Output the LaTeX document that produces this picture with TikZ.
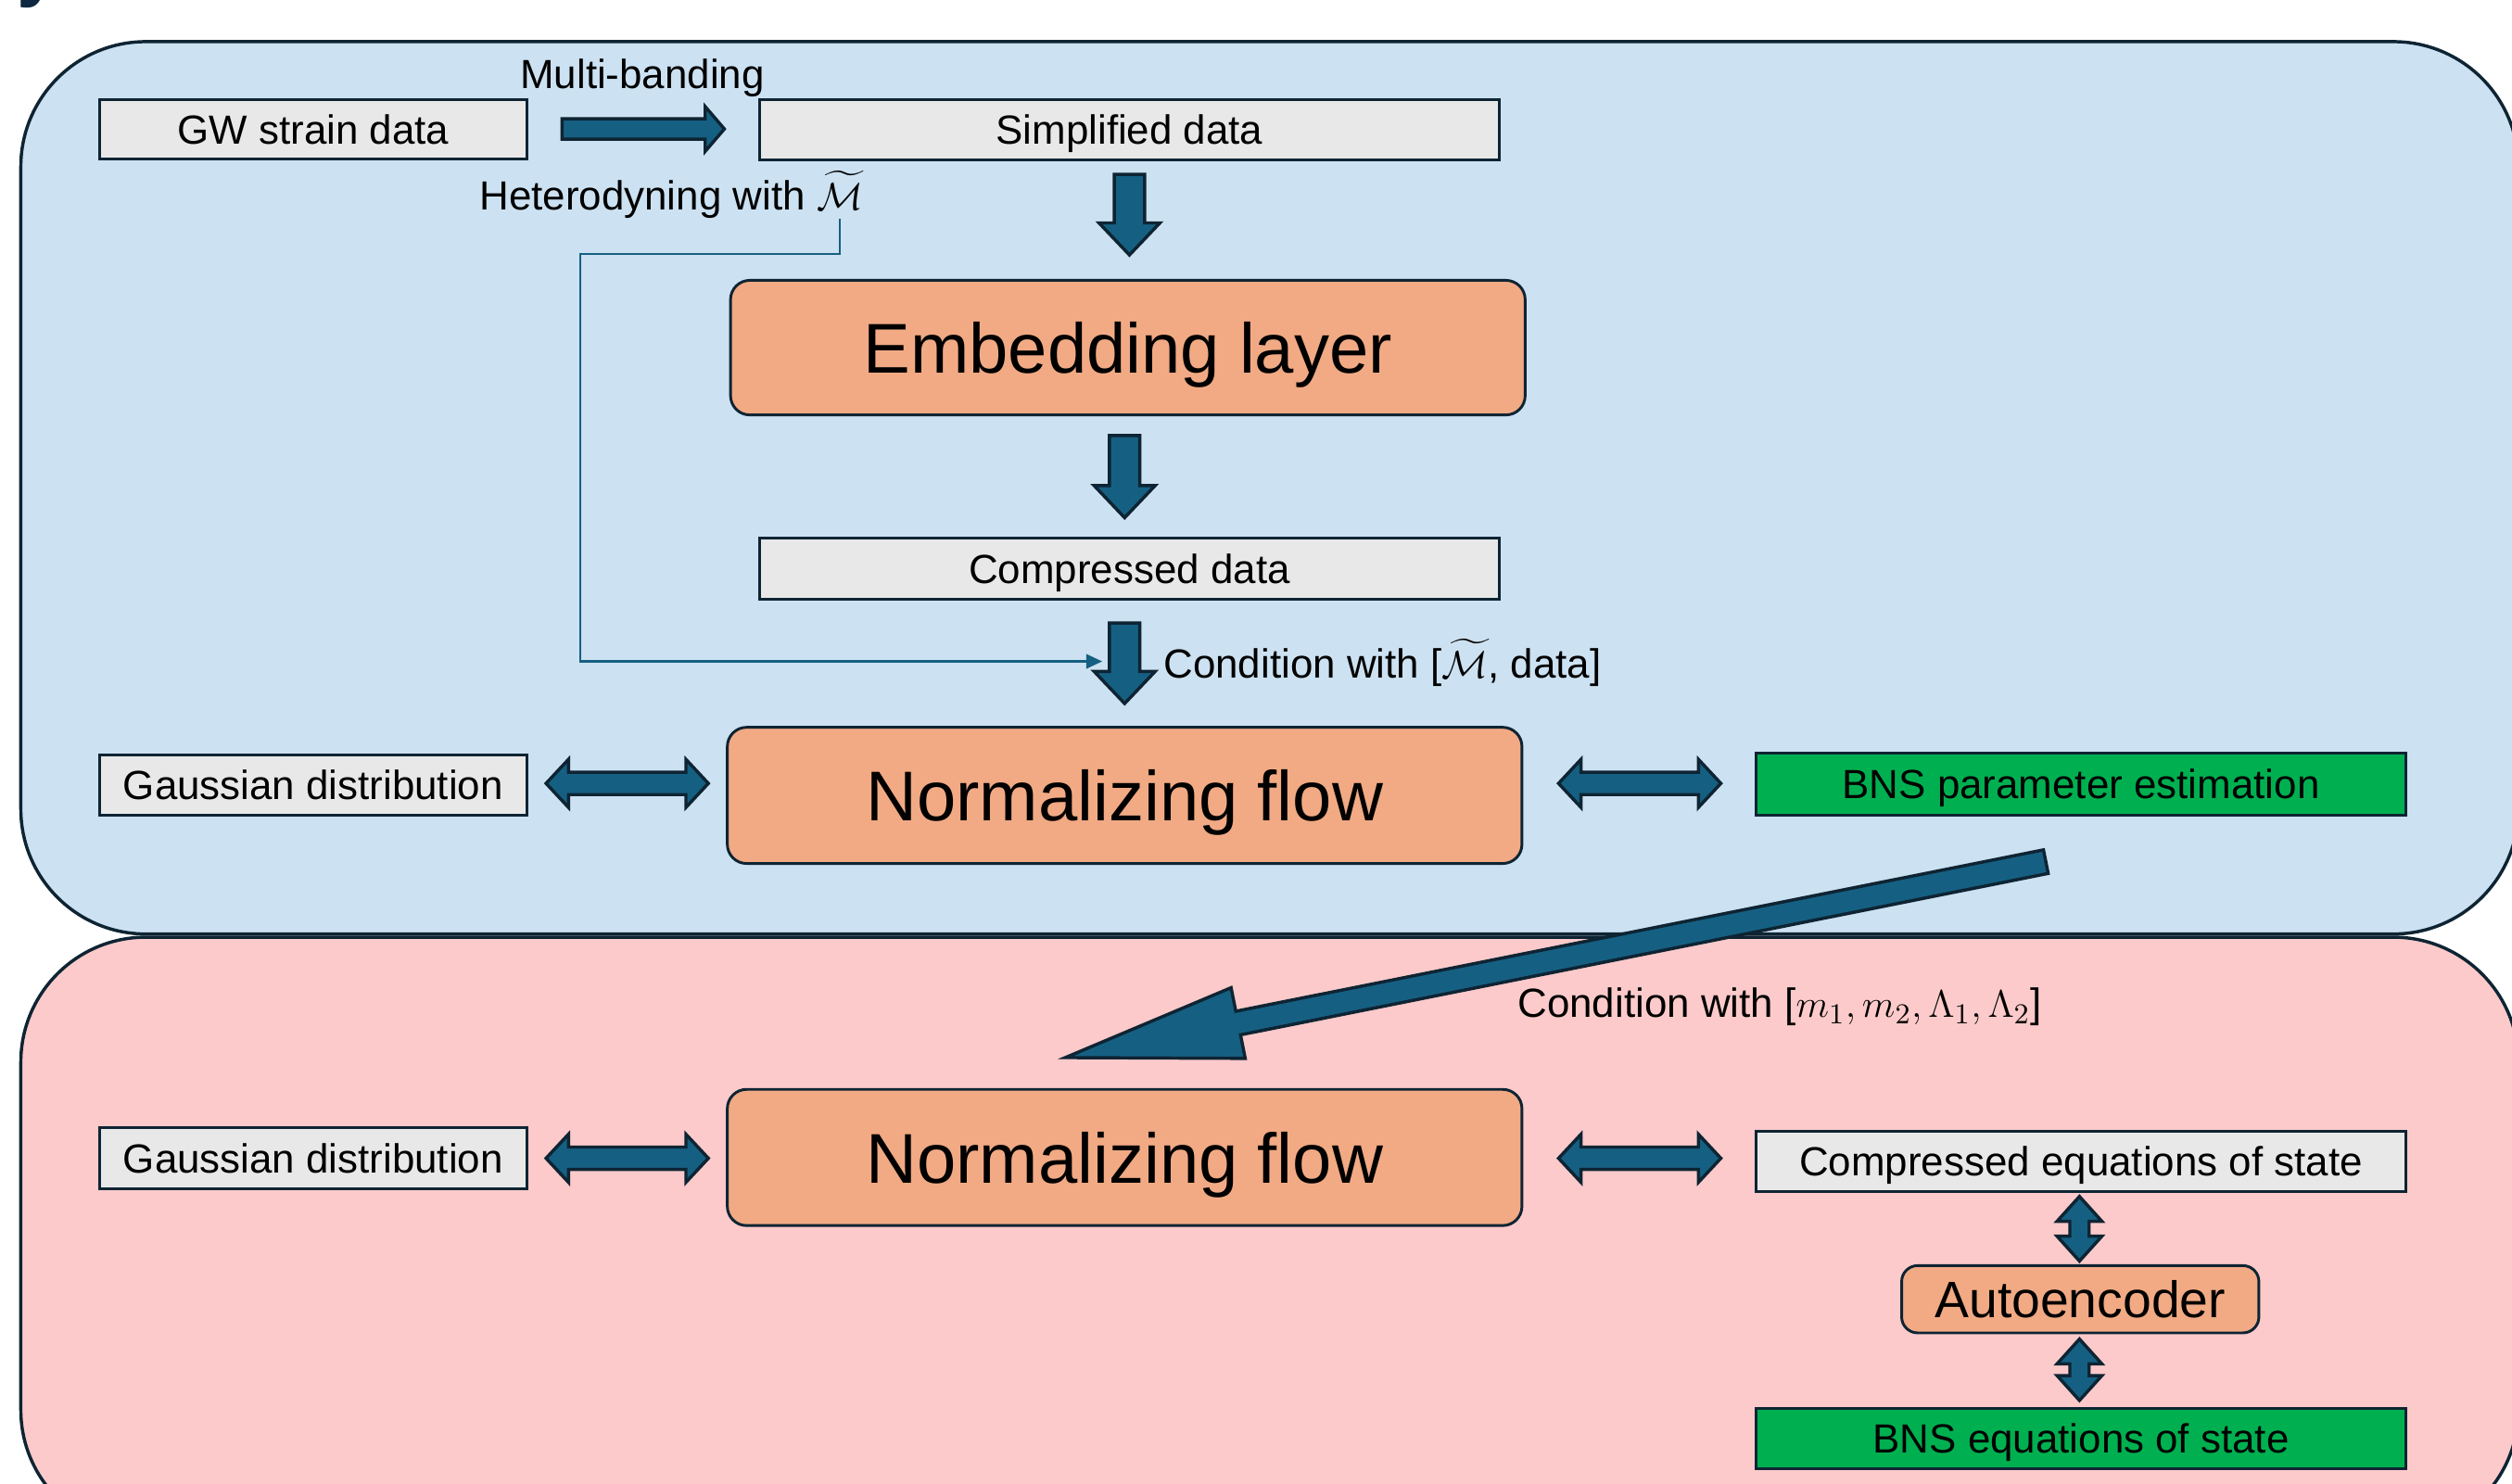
\documentclass[tikz,border=0pt]{standalone}
\usepackage{fontspec}
\setmainfont{Liberation Sans}
\usepackage{amsmath}
\usetikzlibrary{calc,arrows.meta}
\definecolor{navy}{HTML}{0E2433}
\definecolor{bluebg}{HTML}{CCE1F1}
\definecolor{pinkbg}{HTML}{FCCACA}
\definecolor{boxgrey}{HTML}{E8E8E8}
\definecolor{orangebox}{HTML}{F1AA84}
\definecolor{greenbox}{HTML}{00B050}
\definecolor{teal}{HTML}{156082}
\definecolor{titlenavy}{HTML}{0E2841}
\tikzset{
  panel/.style={draw=navy, line width=1pt, rounded corners=39pt},
  basebox/.style={draw=navy, line width=0.85pt, inner sep=0pt, align=center, text depth=0pt},
  greybox/.style={basebox, fill=boxgrey, font=\fontsize{12.7}{15}\selectfont},
  greenrect/.style={basebox, fill=greenbox, font=\fontsize{12.7}{15}\selectfont},
  bigbox/.style={basebox, fill=orangebox, rounded corners=6pt, font=\fontsize{22}{26}\selectfont},
  lbl/.style={inner sep=0pt, text depth=0pt, font=\fontsize{12.7}{15}\selectfont},
  blockarrow/.style={fill=teal, draw=navy, line width=1pt, line join=miter},
  hetline/.style={draw=teal, line width=0.65pt, -{Triangle[length=5pt,width=4.5pt]}}
}
% single block arrow: #1 start, #2 tip, #3 half shaft, #4 half head, #5 head length
\newcommand\sarrow[5]{%
  \coordinate (tmpc) at ($(#2)!#5!(#1)$);
  \draw[blockarrow] ($(#1)!#3!90:(#2)$) -- ($(tmpc)!#3!90:(#2)$) -- ($(tmpc)!#4!90:(#2)$) -- (#2)
    -- ($(tmpc)!#4!-90:(#2)$) -- ($(tmpc)!#3!-90:(#2)$) -- ($(#1)!#3!-90:(#2)$) -- cycle;}
% double block arrow
\newcommand\darrow[5]{%
  \coordinate (tmpa) at ($(#1)!#5!(#2)$);
  \coordinate (tmpb) at ($(#2)!#5!(#1)$);
  \draw[blockarrow] (#1) -- ($(tmpa)!#4!90:(#2)$) -- ($(tmpa)!#3!90:(#2)$) -- ($(tmpb)!#3!90:(#2)$)
    -- ($(tmpb)!#4!90:(#2)$) -- (#2) -- ($(tmpb)!#4!-90:(#2)$) -- ($(tmpb)!#3!-90:(#2)$)
    -- ($(tmpa)!#3!-90:(#2)$) -- ($(tmpa)!#4!-90:(#2)$) -- cycle;}
\begin{document}
\begin{tikzpicture}[x=0.5pt, y=-0.5pt]
\useasboundingbox (0,0) rectangle (1568,926);
% title fragment
\node[anchor=base, inner sep=0pt, text=titlenavy, font=\bfseries\fontsize{24}{28}\selectfont] (ttl) at (24,-5) {y};
% panels
\draw[panel, fill=pinkbg] (13,585) rectangle (1572,958);
\draw[panel, fill=bluebg] (13,26) rectangle (1572,583);

% boxes
\node[greybox, minimum width=133.5pt, minimum height=18.5pt] (gw) at (195.5,80.5) {GW strain data};
\node[greybox, minimum width=231pt, minimum height=19pt] (simp) at (705,81) {Simplified data};
\node[bigbox, minimum width=248pt, minimum height=42pt] (emb) at (704,217) {Embedding layer};
\node[greybox, minimum width=231pt, minimum height=19pt] (comp) at (705,355) {Compressed data};
\node[bigbox, minimum width=248pt, minimum height=42.5pt] (nf1) at (702,496.5) {Normalizing flow};
\node[greybox, minimum width=133.5pt, minimum height=19pt] (gauss1) at (195.5,490) {Gaussian distribution};
\node[greenrect, minimum width=203pt, minimum height=19.5pt] (bnspe) at (1299,489.5) {BNS parameter estimation};
\node[greybox, minimum width=133.5pt, minimum height=19pt] (gauss2) at (195.5,723) {Gaussian distribution};
\node[bigbox, minimum width=248pt, minimum height=42.5pt] (nf2) at (702,722.5) {Normalizing flow};
\node[greybox, minimum width=203pt, minimum height=19pt] (ceos) at (1299,725) {Compressed equations of state};
\node[bigbox, rounded corners=5pt, minimum width=111.5pt, minimum height=21pt, font=\fontsize{16}{19}\selectfont] (ae) at (1298.5,811) {Autoencoder};
\node[greenrect, minimum width=203pt, minimum height=19pt] (bnseos) at (1299,898) {BNS equations of state};

% labels
\node[lbl] (mb) at (401,46) {Multi-banding};
\node[lbl] (het) at (419,119) {Heterodyning with $\widetilde{\mathcal{M}}$};
\node[lbl, anchor=west] (cond1) at (726,411) {Condition with [$\widetilde{\mathcal{M}}$, data]};
\node[lbl, anchor=west] (cond2) at (947,626) {Condition with [$m_1, m_2, \Lambda_1, \Lambda_2$]};

% heterodyning connector
\coordinate (h0) at ($(het.south east)+(-15,5)$);
\coordinate (h1) at ($(comp.south)+(-17,38)$);
\draw[hetline] (h0) |- ++(-162,22) |- (h1);

% arrows
\coordinate (a1s) at ($(gw.east)+(21,0)$);
\coordinate (a1e) at ($(simp.west)+(-21,-0.5)$);
\sarrow{a1s}{a1e}{3.2pt}{7pt}{6pt}

\coordinate (d1s) at ($(simp.south)+(0,8)$);
\coordinate (d1e) at ($(emb.north)+(1,-15)$);
\sarrow{d1s}{d1e}{4.75pt}{9.5pt}{10pt}
\coordinate (d2s) at ($(emb.south)+(-2,12)$);
\coordinate (d2e) at ($(comp.north)+(-3,-12)$);
\sarrow{d2s}{d2e}{4.75pt}{9.5pt}{10pt}
\coordinate (d3s) at ($(comp.south)+(-3,14)$);
\coordinate (d3e) at ($(nf1.north)+(0,-14)$);
\sarrow{d3s}{d3e}{4.75pt}{9.5pt}{10pt}

\coordinate (g1s) at ($(gauss1.east)+(11,-1)$);
\coordinate (g1e) at ($(nf1.west)+(-11,-7.5)$);
\darrow{g1s}{g1e}{3.5pt}{7.5pt}{7pt}
\coordinate (p1s) at ($(nf1.east)+(22,-7.5)$);
\coordinate (p1e) at ($(bnspe.west)+(-21,-0.5)$);
\darrow{p1s}{p1e}{3.5pt}{7.5pt}{7pt}
\coordinate (g2s) at ($(gauss2.east)+(11,0)$);
\coordinate (g2e) at ($(nf2.west)+(-11,0.5)$);
\darrow{g2s}{g2e}{3.5pt}{7.5pt}{7pt}
\coordinate (p2s) at ($(nf2.east)+(22,0.5)$);
\coordinate (p2e) at ($(ceos.west)+(-21,-2)$);
\darrow{p2s}{p2e}{3.5pt}{7.5pt}{7pt}

\coordinate (v1s) at ($(ceos.south)+(-1,2)$);
\coordinate (v1e) at ($(ae.north)+(-0.5,-2)$);
\darrow{v1s}{v1e}{3pt}{7pt}{7.75pt}
\coordinate (v2s) at ($(ae.south)+(-0.5,3)$);
\coordinate (v2e) at ($(bnseos.north)+(-1,-4)$);
\darrow{v2s}{v2e}{3pt}{7pt}{7.75pt}

% big conditioning arrow
\coordinate (bs) at ($(bnspe.south)+(-22,28)$);
\coordinate (be) at ($(nf2.north)+(-37,-19)$);
\sarrow{bs}{be}{3.75pt}{11.25pt}{55pt}
\end{tikzpicture}
\end{document}
